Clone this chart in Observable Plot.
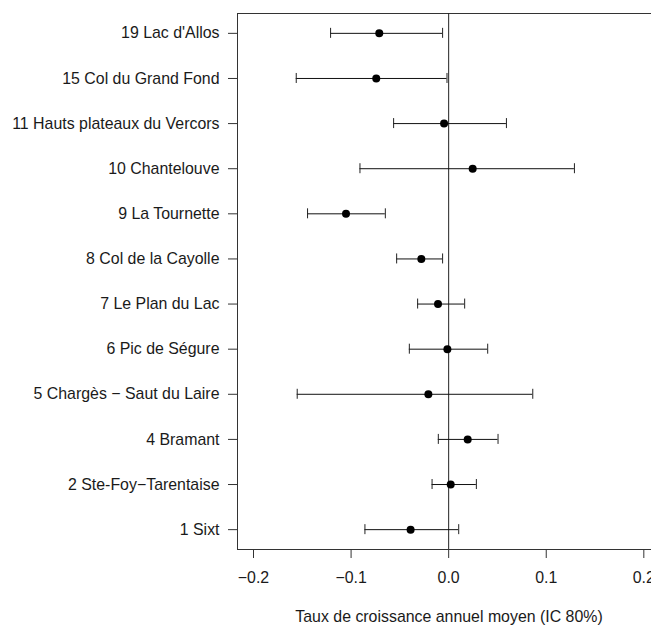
<!DOCTYPE html>
<html>
<head>
<meta charset="utf-8">
<script src="https://cdn.jsdelivr.net/npm/d3@7"></script>
<script src="https://cdn.jsdelivr.net/npm/@observablehq/plot@0.6"></script>
<style>
  html, body { margin: 0; padding: 0; background: #fff; }
  #wrap { width: 651px; height: 625px; overflow: hidden; }
  #wrap svg { max-width: none !important; }
</style>
</head>
<body>
<div id="wrap"></div>
<script>
// Sites, top to bottom as shown
const sites = [
  "19 Lac d'Allos",
  "15 Col du Grand Fond",
  "11 Hauts plateaux du Vercors",
  "10 Chantelouve",
  "9 La Tournette",
  "8 Col de la Cayolle",
  "7 Le Plan du Lac",
  "6 Pic de Ségure",
  "5 Chargès − Saut du Laire",
  "4 Bramant",
  "2 Ste-Foy−Tarentaise",
  "1 Sixt"
];
const estimate = [-0.0711, -0.0742, -0.0047, 0.0246, -0.1052, -0.0280, -0.0109, -0.0013, -0.0208, 0.0195, 0.0021, -0.0390];
const lower    = [-0.1210, -0.1562, -0.0564, -0.0909, -0.1446, -0.0533, -0.0318, -0.0403, -0.1552, -0.0106, -0.0170, -0.0858];
const upper    = [-0.0062, -0.0017, 0.0592, 0.1289, -0.0649, -0.0062, 0.0164, 0.0400, 0.0862, 0.0506, 0.0284, 0.0103];
const xTicks = [-0.2, -0.1, 0.0, 0.1, 0.2];
const xLabel = "Taux de croissance annuel moyen (IC 80%)";

const n = sites.length;
const data = sites.map((s, i) => ({site: s, pos: n - i, est: estimate[i], lo: lower[i], hi: upper[i]}));
const fmt = d3.format(".1f");
const fs = 15.9;

const chart = Plot.plot({
  width: 660,
  height: 625,
  marginLeft: 237,
  marginRight: 0,
  marginTop: 13,
  marginBottom: 76,
  style: {fontFamily: "'Liberation Sans', Arial, sans-serif", fontSize: fs + "px", color: "#1a1a1a", background: "#fff", maxWidth: "none"},
  x: {domain: [-0.2164, 0.2171]},
  y: {domain: [0.56, n + 0.44]},
  marks: [
    Plot.frame({stroke: "#333"}),
    Plot.ruleX([0], {stroke: "#222"}),
    Plot.ruleY(data, {y: "pos", x1: "lo", x2: "hi", stroke: "#111"}),
    Plot.ruleX(data, {x: "lo", y1: "pos", y2: "pos", insetTop: -5, insetBottom: -5, stroke: "#222"}),
    Plot.ruleX(data, {x: "hi", y1: "pos", y2: "pos", insetTop: -5, insetBottom: -5, stroke: "#222"}),
    Plot.dot(data, {x: "est", y: "pos", r: 4, fill: "#000", stroke: "none"}),
    Plot.axisX({ticks: xTicks, tickFormat: fmt, tickSize: 9, tickPadding: 13, label: null, fontSize: fs, stroke: "#333"}),
    Plot.axisY({ticks: d3.range(1, n + 1), tickFormat: d => sites[n - d], tickSize: 9, tickPadding: 9, label: null, fontSize: fs, stroke: "#333"}),
    Plot.text([xLabel], {frameAnchor: "bottom", dy: 72, fontSize: fs, fill: "#1a1a1a"})
  ]
});
chart.style.maxWidth = "none";
document.getElementById("wrap").appendChild(chart);
</script>
</body>
</html>
